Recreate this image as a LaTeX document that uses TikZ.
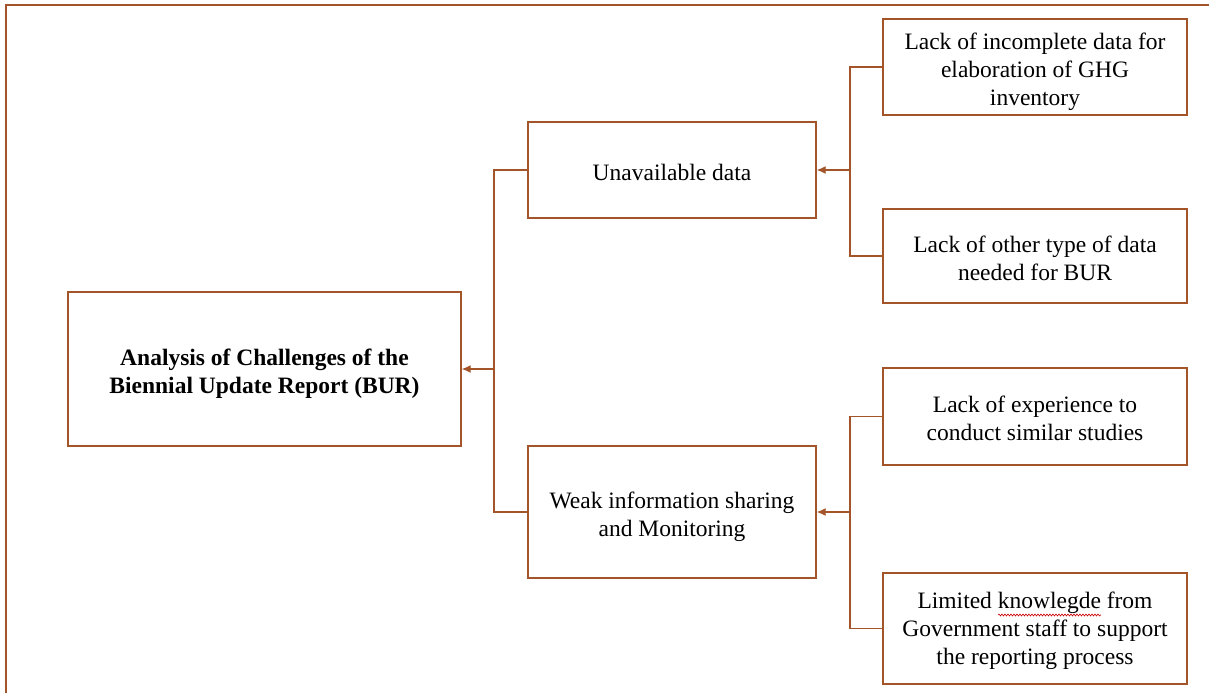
\documentclass[tikz,border=0pt]{standalone}
\usepackage{fontspec}
\setmainfont{Liberation Serif}
\usetikzlibrary{arrows.meta,decorations.pathmorphing}
\definecolor{brn}{RGB}{163,84,40}
\begin{document}
\begin{tikzpicture}[x=1pt,y=-1pt,
  box/.style={draw=brn,line width=1.3pt,fill=white,inner sep=0pt},
  txt/.style={align=center,inner sep=0pt,font=\fontsize{23.5}{28}\selectfont},
  conn/.style={draw=brn,line width=1.3pt},
  arr/.style={conn,-{Latex[length=9pt,width=8pt]}}]
\useasboundingbox (0,0) rectangle (1209,693);
\draw[conn] (6,693) -- (6,5) -- (1209,5);
\node[box,minimum width=393pt,minimum height=154pt] (main) at (264.5,369) {};
\node[box,minimum width=288pt,minimum height=96pt] (ua) at (672,170) {};
\node[box,minimum width=288pt,minimum height=132pt] (wi) at (672,512) {};
\node[box,minimum width=304pt,minimum height=96pt] (r1) at (1035,67) {};
\node[box,minimum width=304pt,minimum height=94pt] (r2) at (1035,256) {};
\node[box,minimum width=304pt,minimum height=97pt] (r3) at (1035,416.5) {};
\node[box,minimum width=304pt,minimum height=111pt] (r4) at (1035,628.5) {};
\node[txt,font=\bfseries\fontsize{23.5}{28}\selectfont] (maint) at ([yshift=-5pt]main.center)
  {Analysis of Challenges of the\\Biennial Update Report (BUR)};
\node[txt] (uat) at ([yshift=-2pt]ua.center) {Unavailable data};
\node[txt] (wit) at ([yshift=-5pt]wi.center) {Weak information sharing\\and Monitoring};
\node[txt] (r1t) at ([yshift=-5pt]r1.center) {Lack of incomplete data for\\elaboration of GHG\\inventory};
\node[txt] (r2t) at ([yshift=-2pt]r2.center) {Lack of other type of data\\needed for BUR};
\node[txt] (r3t) at ([yshift=-2pt]r3.center) {Lack of experience to\\conduct similar studies};
\node[txt] (r4t) at ([yshift=-2pt]r4.center) {Limited knowlegde from\\Government staff to support\\the reporting process};
\coordinate (j1) at (494,369);
\coordinate (j2) at (850,170);
\coordinate (j3) at (850,512);
\draw[arr] (j1) -- (main.east);
\draw[conn] (j1) |- (ua.west);
\draw[conn] (j1) |- (wi.west);
\draw[arr] (j2) -- (ua.east);
\draw[conn] (j2) |- (r1.west);
\draw[conn] (j2) |- (r2.west);
\draw[arr] (j3) -- (wi.east);
\draw[conn] (j3) |- (r3.west);
\draw[conn] (j3) |- (r4.west);
\coordinate (sq1) at (998,615);
\coordinate (sq2) at (1101,615);
\draw[red!80!black,line width=0.6pt,decorate,decoration={snake,amplitude=1pt,segment length=3pt}] (sq1) -- (sq2);
\end{tikzpicture}
\end{document}
